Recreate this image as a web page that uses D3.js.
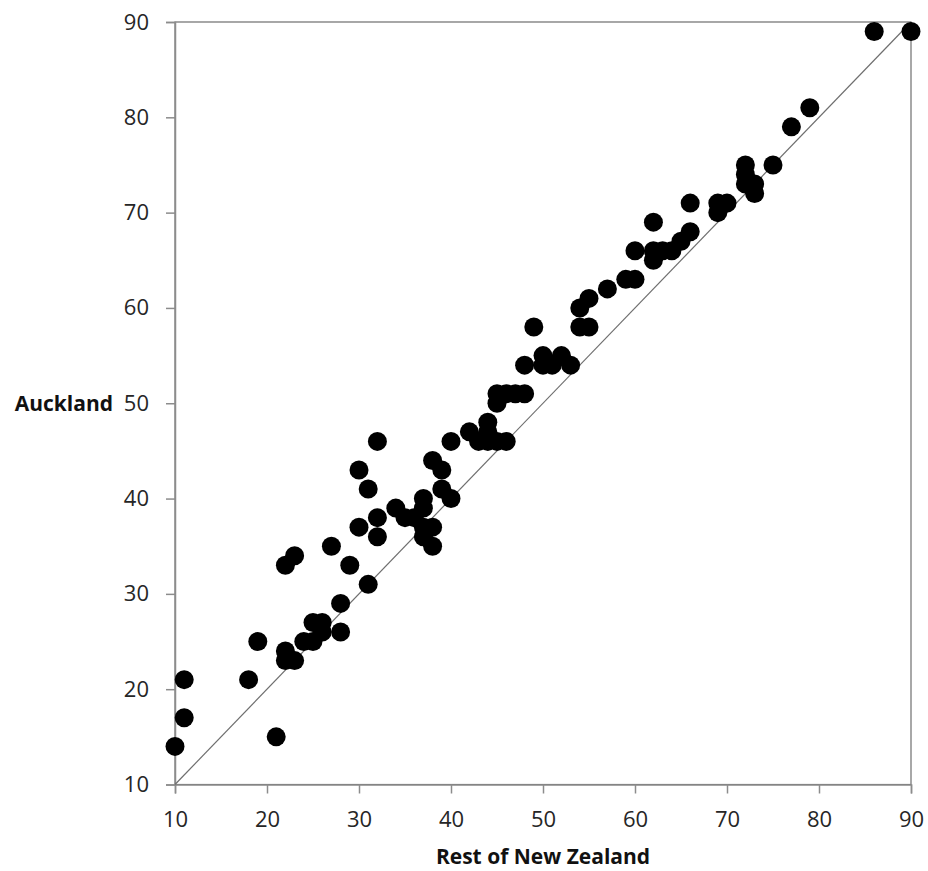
<!DOCTYPE html>
<html>
<head>
<meta charset="utf-8">
<script src="https://cdn.jsdelivr.net/npm/d3@7"></script>
<style>
  html, body { margin: 0; padding: 0; background: #fff; }
  svg { display: block; }
</style>
</head>
<body>
<svg id="chart" width="928" height="871"></svg>
<script>
// Rest of New Zealand (x) vs Auckland (y)
const restNZ = [
  10, 11, 11, 21, 18, 19, 22, 23, 22, 22, 23,
  24, 25, 25, 26, 26, 28, 28, 27, 29,
  30, 30, 31, 31, 32, 32, 32,
  34, 35, 36, 37, 37, 37, 37, 38, 38, 38,
  39, 39, 40, 40, 42, 43, 44, 44, 44, 45, 46,
  45, 45, 46, 47, 48, 48,
  49, 50, 50, 51, 52, 53,
  54, 54, 55, 55, 57, 59, 60, 60,
  62, 62, 62, 63, 64, 65, 66, 66,
  69, 69, 70, 72, 72, 72, 73, 73, 75,
  77, 79, 86, 90
];
const auckland = [
  14, 17, 21, 15, 21, 25, 33, 34, 24, 23, 23,
  25, 25, 27, 27, 26, 26, 29, 35, 33,
  37, 43, 41, 31, 46, 38, 36,
  39, 38, 38, 40, 39, 37, 36, 37, 35, 44,
  43, 41, 40, 46, 47, 46, 48, 47, 46, 46, 46,
  50, 51, 51, 51, 51, 54,
  58, 55, 54, 54, 55, 54,
  58, 60, 58, 61, 62, 63, 63, 66,
  65, 66, 69, 66, 66, 67, 68, 71,
  70, 71, 71, 73, 74, 75, 73, 72, 75,
  79, 81, 89, 89
];
const xTicks = [10, 20, 30, 40, 50, 60, 70, 80, 90];
const yTicks = [10, 20, 30, 40, 50, 60, 70, 80, 90];
const xTitle = "Rest of New Zealand";
const yTitle = "Auckland";

const svg = d3.select("#chart");
const mLeft = 175, mRight = 911, mTop = 22, mBottom = 784.5;
const x = d3.scaleLinear().domain([10, 90]).range([mLeft, mRight]);
const y = d3.scaleLinear().domain([10, 90]).range([mBottom, mTop]);
const font = "'Open Sans', Lato, sans-serif";
const axisColor = "#8c8c8c";

// plot border
svg.append("rect")
  .attr("x", mLeft).attr("y", mTop)
  .attr("width", mRight - mLeft).attr("height", mBottom - mTop)
  .attr("fill", "none").attr("stroke", "#6e6e6e").attr("stroke-width", 1.2);

// axes
const xAxis = svg.append("g").attr("transform", `translate(0,${mBottom})`)
  .call(d3.axisBottom(x).tickValues(xTicks).tickSize(9).tickPadding(18));
const yAxis = svg.append("g").attr("transform", `translate(${mLeft},0)`)
  .call(d3.axisLeft(y).tickValues(yTicks).tickSize(9).tickPadding(17));
[xAxis, yAxis].forEach(g => {
  g.select(".domain").attr("stroke", axisColor).attr("stroke-width", 1.5);
  g.selectAll(".tick line").attr("stroke", axisColor).attr("stroke-width", 1.5);
  g.selectAll(".tick text").attr("fill", "#262626").attr("font-size", 22).attr("font-family", font);
});

// diagonal y = x line
svg.append("line")
  .attr("x1", x(10)).attr("y1", y(10))
  .attr("x2", x(90)).attr("y2", y(90))
  .attr("stroke", "#6e6e6e").attr("stroke-width", 1.2);

// points
const pts = restNZ.map((v, i) => ({ x: v, y: auckland[i] }));
svg.append("g").selectAll("circle").data(pts).join("circle")
  .attr("cx", d => x(d.x)).attr("cy", d => y(d.y))
  .attr("r", 9.5).attr("fill", "#000");

// axis titles
svg.append("text")
  .attr("x", (mLeft + mRight) / 2).attr("y", 864)
  .attr("text-anchor", "middle")
  .attr("font-family", font).attr("font-weight", "bold").attr("font-size", 21)
  .attr("fill", "#111").text(xTitle);
svg.append("text")
  .attr("x", 113).attr("y", 411)
  .attr("text-anchor", "end")
  .attr("font-family", font).attr("font-weight", "bold").attr("font-size", 21)
  .attr("fill", "#111").text(yTitle);
</script>
</body>
</html>
